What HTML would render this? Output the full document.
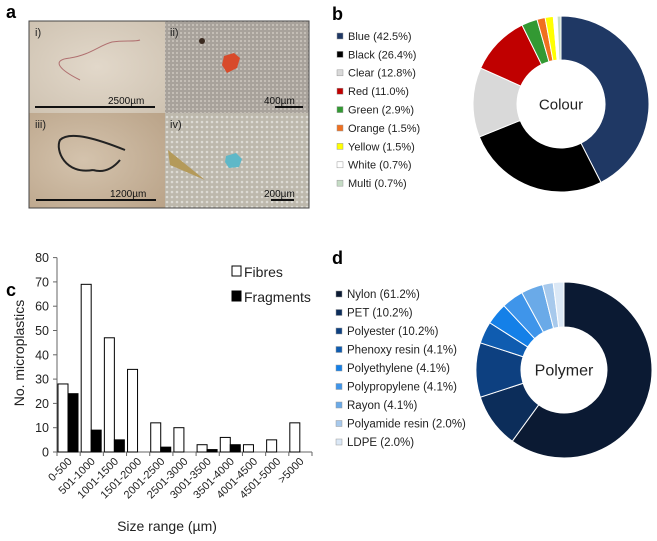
<!DOCTYPE html>
<html><head><meta charset="utf-8">
<style>
body{margin:0;background:#fff;width:657px;height:536px;overflow:hidden;font-family:"Liberation Sans",sans-serif}
svg text{font-family:"Liberation Sans",sans-serif}
</style></head><body>
<svg id="fig" width="657" height="536" viewBox="0 0 657 536">
<defs>
<radialGradient id="g1" cx="0.5" cy="0.5" r="0.7"><stop offset="0" stop-color="#e2d8ca"/><stop offset="1" stop-color="#cfc3b2"/></radialGradient>
<pattern id="mesh" width="4" height="4" patternUnits="userSpaceOnUse"><rect width="4" height="4" fill="#a8a29b"/><rect width="2" height="2" fill="#c4beb6"/></pattern>
<radialGradient id="g3" cx="0.4" cy="0.5" r="0.8"><stop offset="0" stop-color="#d4c3ad"/><stop offset="1" stop-color="#b9a287"/></radialGradient>
<pattern id="speck" width="5" height="5" patternUnits="userSpaceOnUse"><rect width="5" height="5" fill="#bdb8ac"/><circle cx="2" cy="2" r="1.3" fill="#dcdad4"/></pattern>
</defs>
<!-- panel labels -->
<text x="6" y="18" font-size="18" font-weight="bold">a</text>
<text x="332" y="20" font-size="18" font-weight="bold">b</text>
<text x="6" y="296" font-size="18" font-weight="bold">c</text>
<text x="332" y="264" font-size="18" font-weight="bold">d</text>

<!-- panel a photos -->
<g>
<rect x="29" y="21" width="136" height="92" fill="url(#g1)"/>
<rect x="165" y="21" width="144" height="92" fill="url(#mesh)"/>
<rect x="29" y="113" width="136" height="95" fill="url(#g3)"/>
<rect x="165" y="113" width="144" height="95" fill="url(#speck)"/>
<rect x="29" y="21" width="280" height="187" fill="none" stroke="#444" stroke-width="1"/>
<path d="M80 80 C60 70,50 60,70 58 C90 55,100 45,112 42 C125 40,135 42,140 40" fill="none" stroke="#b07070" stroke-width="1"/>
<path d="M224 56 l10 -3 l6 5 l-3 10 l-10 5 l-5 -8z" fill="#d84a2a"/>
<circle cx="202" cy="41" r="3" fill="#3a2a20"/>
<path d="M93 170 C65 175,55 150,60 140 C70 130,100 140,125 150 M120 160 C110 172,100 172,93 170" fill="none" stroke="#222" stroke-width="2"/>
<path d="M226 156 l10 -3 l6 6 l-3 8 l-10 1 l-4 -6z" fill="#5fb8c8"/>
<path d="M168 150 L205 180 L170 165z" fill="#b49a5a"/>
<text x="35" y="36" font-size="11" fill="#222">i)</text>
<text x="170" y="36" font-size="11" fill="#222">ii)</text>
<text x="35" y="128" font-size="11" fill="#222">iii)</text>
<text x="170" y="128" font-size="11" fill="#222">iv)</text>
<text x="108" y="104" font-size="10" fill="#111">2500µm</text>
<rect x="35" y="106" width="120" height="2" fill="#111"/>
<text x="264" y="104" font-size="10" fill="#111">400µm</text>
<rect x="275" y="106" width="28" height="2" fill="#111"/>
<text x="110" y="197" font-size="10" fill="#111">1200µm</text>
<rect x="36" y="199" width="120" height="2" fill="#111"/>
<text x="264" y="197" font-size="10" fill="#111">200µm</text>
<rect x="271" y="199" width="23" height="2" fill="#111"/>
</g>
<g id="colourPie"></g>
<g id="colourLeg"></g>
<g id="polyPie"></g>
<g id="polyLeg"></g>
<g id="bars"></g>
</svg>
<script>
const colourLabels=["Blue","Black","Clear","Red","Green","Orange","Yellow","White","Multi"];
const colourValues=[42.5,26.4,12.8,11.0,2.9,1.5,1.5,0.7,0.7];
const colourFills=["#1f3864","#000000","#d9d9d9","#c00000","#339933","#f07020","#ffff00","#ffffff","#c5dcc5"];
const polyLabels=["Nylon","PET","Polyester","Phenoxy resin","Polyethylene","Polypropylene","Rayon","Polyamide resin","LDPE"];
const polyValues=[61.2,10.2,10.2,4.1,4.1,4.1,4.1,2.0,2.0];
const polyFills=["#0b1a33","#0c2d5a","#0d4080","#0f5cb0","#1480e8","#3f95ea","#6aaae8","#a7c9ec","#dbe8f6"];
const sizeCats=["0-500","501-1000","1001-1500","1501-2000","2001-2500","2501-3000","3001-3500","3501-4000","4001-4500","4501-5000",">5000"];
const fibres=[28,69,47,34,12,10,3,6,3,5,12];
const fragments=[24,9,5,0,2,0,1,3,0,0,0];
const yTicks=[0,10,20,30,40,50,60,70,80];
const NS="http://www.w3.org/2000/svg";
function mk(parent,tag,attrs){const e=document.createElementNS(NS,tag);for(const k in attrs)e.setAttribute(k,attrs[k]);parent.appendChild(e);return e;}
function donut(g,vals,fills,labels,cx,cy,R,r,title,fs,prefix){
  const tot=vals.reduce((a,b)=>a+b,0);let a0=0;
  vals.forEach((v,i)=>{const a1=a0+v/tot*2*Math.PI;
    const p=(a,rad)=>[cx+rad*Math.sin(a),cy-rad*Math.cos(a)];
    const [x0,y0]=p(a0,R),[x1,y1]=p(a1,R),[x2,y2]=p(a1,r),[x3,y3]=p(a0,r);const lg=(a1-a0)>Math.PI?1:0;
    const s=mk(g,"path",{d:`M${x0} ${y0}A${R} ${R} 0 ${lg} 1 ${x1} ${y1}L${x2} ${y2}A${r} ${r} 0 ${lg} 0 ${x3} ${y3}Z`,fill:fills[i],stroke:"#fff","stroke-width":1});
    
    
    a0=a1;});
  const t=mk(g,"text",{x:cx,y:cy+fs*0.35,"font-size":fs,"text-anchor":"middle",fill:"#222"});t.textContent=title;
  
  
}
function legend(g,labels,vals,fills,x,y0,dy,fs,prefix,dec){
  labels.forEach((l,i)=>{const y=y0+i*dy;
    const r=mk(g,"rect",{x:x,y:y-3,width:6,height:6,fill:fills[i],stroke:"#999","stroke-width":0.5});
    
    
    const t=mk(g,"text",{x:x+11,y:y+fs*0.35,"font-size":fs,fill:"#222"});t.textContent=l+" ("+vals[i].toFixed(1)+"%)";
    
    });
}
donut(document.getElementById("colourPie"),colourValues,colourFills,colourLabels,561,104,88,44,"Colour",15,"colour");
legend(document.getElementById("colourLeg"),colourLabels,colourValues,colourFills,337,36,18.4,11,"colour");
donut(document.getElementById("polyPie"),polyValues,polyFills,polyLabels,564,370,88,43,"Polymer",16,"polymer");
legend(document.getElementById("polyLeg"),polyLabels,polyValues,polyFills,336,294,18.5,11.5,"polymer");
// bar chart
const bg=document.getElementById("bars");
const X0=57,X1=312,Y0=452,pxPer=2.43;const cw=(X1-X0)/sizeCats.length;
const ys=v=>Y0-v*pxPer;
mk(bg,"line",{x1:X0,y1:ys(80),x2:X0,y2:Y0,stroke:"#666","stroke-width":1});
mk(bg,"line",{x1:X0,y1:Y0,x2:X1,y2:Y0,stroke:"#666","stroke-width":1});
yTicks.forEach(v=>{mk(bg,"line",{x1:X0-4,y1:ys(v),x2:X0,y2:ys(v),stroke:"#666"});
  const t=mk(bg,"text",{x:X0-8,y:ys(v)+4.5,"font-size":12.5,"text-anchor":"end",fill:"#222"});t.textContent=v;
  
  });
sizeCats.forEach((c,i)=>{const x=X0+i*cw;
  mk(bg,"line",{x1:x,y1:Y0,x2:x,y2:Y0+4,stroke:"#666"});
  const f=mk(bg,"rect",{x:x+1,y:ys(fibres[i]),width:10,height:fibres[i]*pxPer,fill:"#fff",stroke:"#000","stroke-width":1});
  
  
  if(fragments[i]>0){const r=mk(bg,"rect",{x:x+11,y:ys(fragments[i]),width:10,height:fragments[i]*pxPer,fill:"#000",stroke:"#000","stroke-width":1});
  
  }
  const cx=x+cw/2+4;const t=mk(bg,"text",{x:cx,y:Y0+10,"font-size":11,"text-anchor":"end",fill:"#222",transform:`rotate(-45 ${cx} ${Y0+10})`});t.textContent=c;
  
  });
mk(bg,"line",{x1:X1,y1:Y0,x2:X1,y2:Y0+4,stroke:"#666"});
const yl=mk(bg,"text",{x:24,y:353,"font-size":14,"text-anchor":"middle",fill:"#222",transform:"rotate(-90 24 353)"});yl.textContent="No. microplastics";


const xl=mk(bg,"text",{x:167,y:531,"font-size":14,"text-anchor":"middle",fill:"#222"});xl.textContent="Size range (µm)";


const l1=mk(bg,"rect",{x:232,y:266,width:9,height:10,fill:"#fff",stroke:"#000"});


const t1=mk(bg,"text",{x:244,y:277,"font-size":14,fill:"#222"});t1.textContent="Fibres";


const l2=mk(bg,"rect",{x:232,y:291,width:9,height:10,fill:"#000",stroke:"#000"});


const t2=mk(bg,"text",{x:244,y:302,"font-size":14,fill:"#222"});t2.textContent="Fragments";


</script>
</body></html>
